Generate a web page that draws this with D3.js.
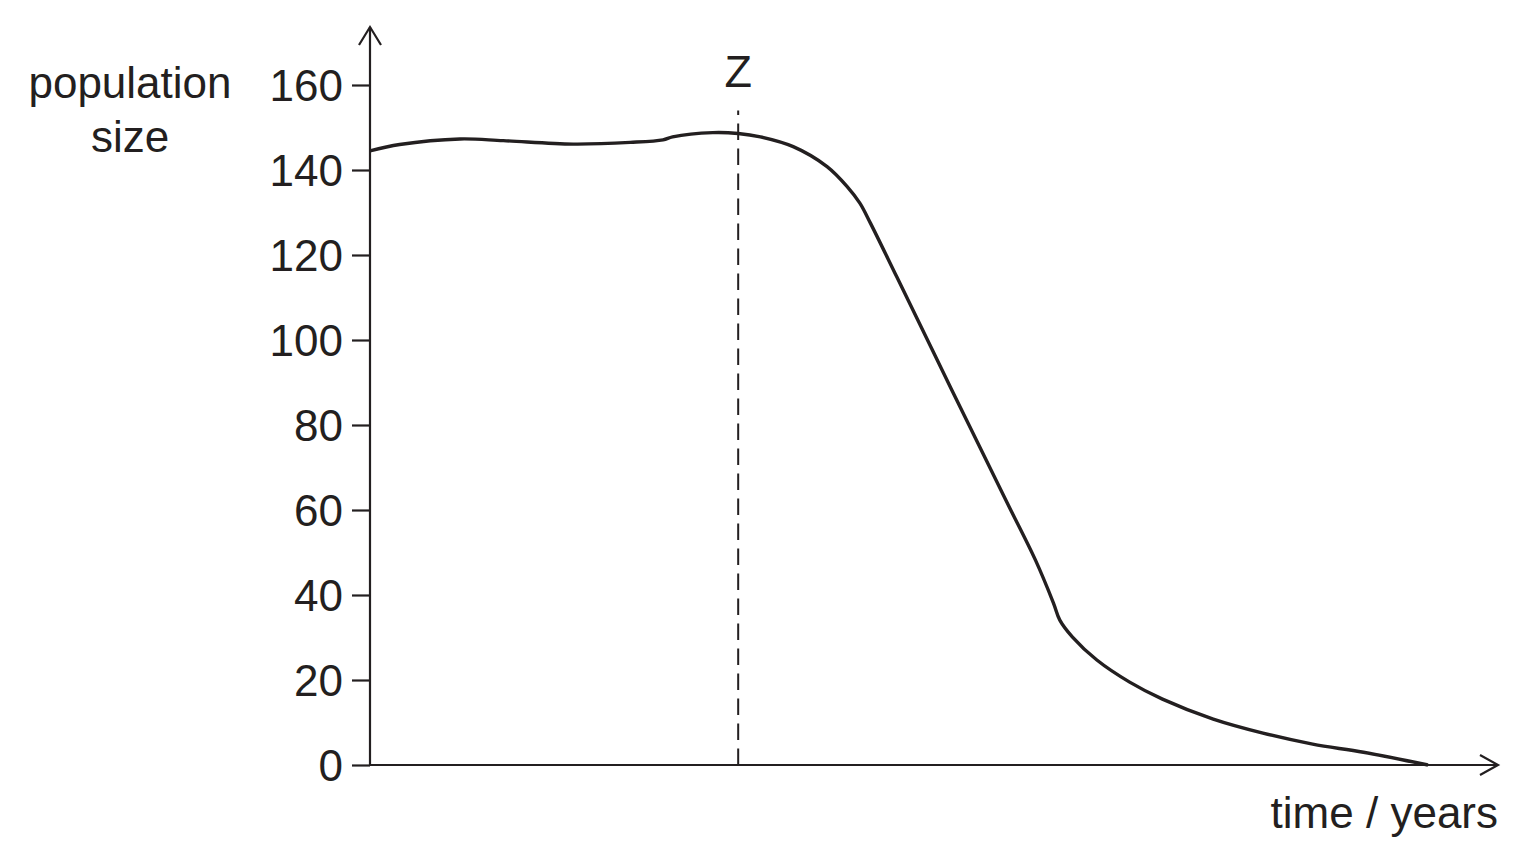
<!DOCTYPE html>
<html>
<head>
<meta charset="utf-8">
<script src="https://cdn.jsdelivr.net/npm/d3@7"></script>
<style>
  body { margin: 0; background: #fff; }
  text { font-family: "Liberation Sans", Arial, Helvetica, sans-serif; fill: #231f20; }
</style>
</head>
<body>
<script>
// values (time has no scale marked, 0..100 spans the drawn curve)
var timeYears = [0, 2.8, 8.5, 12.6, 19.2, 24.6, 27.7, 28.6, 32.4, 34.8, 36.9, 40, 43.2, 45.1, 46.3, 47.3,
                 49.8, 55, 60, 62.9, 64.6, 65.2, 66.4, 68.7, 71.8, 74.9, 79.7, 84.4, 89.1, 93.9, 100];
var populationSize = [144.5, 146.0, 147.3, 146.9, 146.1, 146.5, 147.1, 147.8, 148.8, 148.6, 147.8, 145.5, 140.8, 136.1, 132.2, 127.5,
                      114.8, 88.2, 62.8, 48.2, 38.1, 34.1, 30.1, 24.7, 19.5, 15.5, 10.8, 7.5, 4.9, 3.0, 0];
var yTicks = [0, 20, 40, 60, 80, 100, 120, 140, 160];
var zTime = 34.8;
var zTop = 154;

var ink = "#231f20";

function main(){
  var width = 1526,
      height = 865;

  var x = d3.scaleLinear().domain([0, 100]).range([370, 1428]);
  var y = d3.scaleLinear().domain([0, 160]).range([765, 85]);

  var svg = d3.select("body")
            .append("svg")
            .attr("width", width)
            .attr("height", height);

  // y axis ticks and labels
  var yAxis = d3.axisLeft(y)
            .tickValues(yTicks)
            .tickSize(18)
            .tickPadding(9);

  var gy = svg.append("g")
            .attr("transform", "translate(370,0)")
            .call(yAxis);
  gy.select(".domain").remove();
  gy.selectAll(".tick line").attr("stroke", ink).attr("stroke-width", 2.2);
  gy.selectAll(".tick text")
    .attr("font-size", 44)
    .attr("dy", "0.36em")
    .attr("font-family", "Liberation Sans, Arial, sans-serif")
    .attr("fill", ink);

  // axis lines with arrow heads
  var axes = svg.append("g")
            .attr("fill", "none")
            .attr("stroke", ink)
            .attr("stroke-width", 2.2);
  axes.append("path").attr("d", "M370,765V27");
  axes.append("path").attr("d", "M359,45L370,27L381,45");
  axes.append("path").attr("d", "M369,765H1498");
  axes.append("path").attr("d", "M1480,755L1498,765L1480,775");

  // dashed line at Z
  svg.append("line")
    .attr("x1", x(zTime)).attr("x2", x(zTime))
    .attr("y1", y(0)).attr("y2", y(zTop))
    .attr("stroke", ink)
    .attr("stroke-width", 2)
    .attr("stroke-dasharray", "16.5,8.5");

  svg.append("text")
    .attr("x", x(zTime))
    .attr("y", 87)
    .attr("text-anchor", "middle")
    .attr("font-size", 45)
    .text("Z");

  // population curve
  var line = d3.line()
            .x(function(d, i) { return x(timeYears[i]); })
            .y(function(d) { return y(d); })
            .curve(d3.curveCatmullRom.alpha(0.5));

  svg.append("path")
    .datum(populationSize)
    .attr("d", line)
    .attr("fill", "none")
    .attr("stroke", ink)
    .attr("stroke-width", 3.4)
    .attr("stroke-linejoin", "round");

  // axis titles
  var ylab = svg.append("text")
            .attr("text-anchor", "middle")
            .attr("font-size", 44);
  ylab.append("tspan").attr("x", 130).attr("y", 98).text("population");
  ylab.append("tspan").attr("x", 130).attr("y", 152).text("size");

  svg.append("text")
    .attr("x", 1498)
    .attr("y", 828)
    .attr("text-anchor", "end")
    .attr("font-size", 44)
    .text("time / years");
}

main();
</script>
</body>
</html>
